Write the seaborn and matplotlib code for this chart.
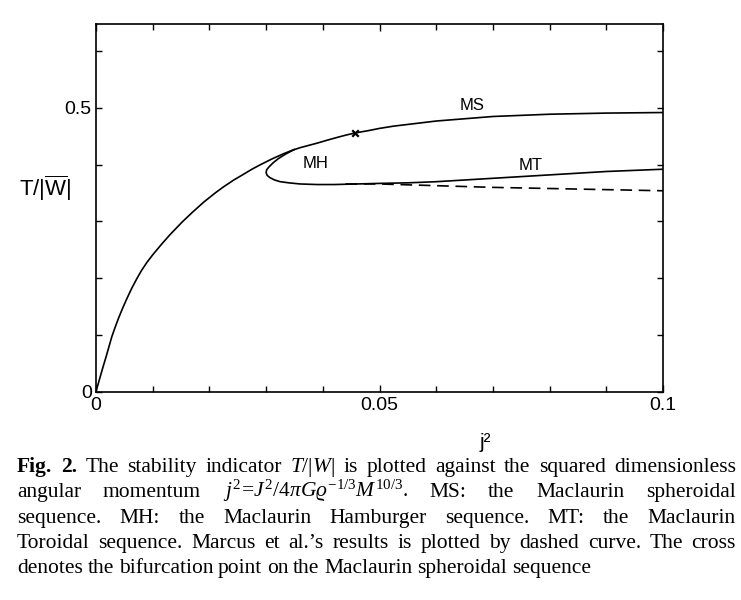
import matplotlib
matplotlib.use("Agg")
import matplotlib.pyplot as plt
import seaborn as sns
from matplotlib.ticker import MultipleLocator, FixedLocator

# ---------------- data ----------------
ms_j2 = [0.0, 0.0004, 0.0008, 0.0012, 0.0018, 0.0022, 0.0028, 0.0034, 0.0040, 0.0047,
         0.0055, 0.0063, 0.0072, 0.0080, 0.0090, 0.0100, 0.0115, 0.0130, 0.0152, 0.0170,
         0.0190, 0.0210, 0.0225, 0.0243, 0.0260, 0.0275, 0.0290, 0.0310, 0.0330, 0.0345,
         0.0360, 0.0375, 0.0390, 0.0407, 0.0425, 0.0440, 0.0457, 0.0480, 0.0500, 0.0525,
         0.0550, 0.0575, 0.0600, 0.0625, 0.0650, 0.0675, 0.0700, 0.0750, 0.0800, 0.0850,
         0.0900, 0.0950, 0.1000]
ms_tw = [0.0, 0.014, 0.028, 0.042, 0.062, 0.076, 0.097, 0.114, 0.130, 0.147,
         0.165, 0.182, 0.199, 0.213, 0.228, 0.241, 0.259, 0.276, 0.299, 0.316,
         0.334, 0.350, 0.361, 0.373, 0.383, 0.392, 0.400, 0.410, 0.419, 0.425,
         0.430, 0.434, 0.438, 0.443, 0.448, 0.452, 0.456, 0.460, 0.464, 0.468,
         0.471, 0.474, 0.477, 0.479, 0.481, 0.483, 0.485, 0.487, 0.489, 0.490,
         0.491, 0.4915, 0.492]

mhmt_j2 = [0.0350, 0.0335, 0.0322, 0.0312, 0.0305, 0.0301, 0.0300, 0.0302, 0.0307,
           0.0315, 0.0325, 0.0340, 0.0360, 0.0390, 0.0420, 0.0460, 0.0500, 0.0550,
           0.0600, 0.0650, 0.0700, 0.0750, 0.0800, 0.0850, 0.0900, 0.0950, 0.1000]
mhmt_tw = [0.427, 0.419, 0.411, 0.403, 0.396, 0.391, 0.386, 0.381, 0.377,
           0.373, 0.370, 0.368, 0.366, 0.365, 0.365, 0.366, 0.367, 0.368,
           0.370, 0.373, 0.376, 0.379, 0.382, 0.385, 0.388, 0.390, 0.392]

marcus_j2 = [0.044, 0.050, 0.060, 0.070, 0.080, 0.090, 0.100]
marcus_tw = [0.366, 0.366, 0.363, 0.360, 0.358, 0.356, 0.354]

bifurcation_j2 = [0.0457]
bifurcation_tw = [0.4564]

seq_names = ["MS", "MH", "MT"]
seq_j2 = [0.0664, 0.0388, 0.0767]
seq_tw = [0.505, 0.4025, 0.398]

x_major = [0.0, 0.05, 0.1]
x_major_labels = ["0", "0.05", "0.1"]
y_major = [0.0, 0.5]
y_major_labels = ["0", "0.5"]

caption_lines = [
    [("Fig.", "bold"), ("2.", "bold"), ("The", "normal"), ("stability", "normal"),
     ("indicator", "normal"), (r"$T/|W|$", "normal"), ("is", "normal"), ("plotted", "normal"),
     ("against", "normal"), ("the", "normal"), ("squared", "normal"), ("dimensionless", "normal")],
    [("angular", "normal"), ("momentum", "normal"),
     (r"$j^2\!=\!J^2/4\pi G\varrho^{-1/3}M^{10/3}$.", "normal"),
     ("MS:", "normal"), ("the", "normal"), ("Maclaurin", "normal"), ("spheroidal", "normal")],
    [("sequence.", "normal"), ("MH:", "normal"), ("the", "normal"), ("Maclaurin", "normal"),
     ("Hamburger", "normal"), ("sequence.", "normal"), ("MT:", "normal"), ("the", "normal"),
     ("Maclaurin", "normal")],
    [("Toroidal", "normal"), ("sequence.", "normal"), ("Marcus", "normal"), ("et", "normal"),
     ("al.\u2019s", "normal"), ("results", "normal"), ("is", "normal"), ("plotted", "normal"),
     ("by", "normal"), ("dashed", "normal"), ("curve.", "normal"), ("The", "normal"),
     ("cross", "normal")],
    [("denotes", "normal"), ("the", "normal"), ("bifurcation", "normal"), ("point", "normal"),
     ("on", "normal"), ("the", "normal"), ("Maclaurin", "normal"), ("spheroidal", "normal"),
     ("sequence", "normal")],
]

# ---------------- style ----------------
sns.set_theme(style="ticks")
plt.rcParams["font.family"] = ["Liberation Sans", "DejaVu Sans"]
plt.rcParams["mathtext.fontset"] = "custom"
plt.rcParams["mathtext.rm"] = "Liberation Serif"
plt.rcParams["mathtext.it"] = "Liberation Serif:italic"
plt.rcParams["mathtext.bf"] = "Liberation Serif:bold"
plt.rcParams["mathtext.sf"] = "Liberation Sans"

fig = plt.figure(figsize=(7.41, 6.0), dpi=100)
fig.patch.set_facecolor("white")
ax = fig.add_axes([96 / 741, 1 - 391.5 / 600, 567 / 741, 368 / 600])
ax.set_facecolor("white")

lw = 1.2
sns.lineplot(x=ms_j2, y=ms_tw, sort=False, estimator=None, color="black", lw=lw, ax=ax)
sns.lineplot(x=mhmt_j2, y=mhmt_tw, sort=False, estimator=None, color="black", lw=lw, ax=ax)
sns.lineplot(x=marcus_j2, y=marcus_tw, sort=False, estimator=None, color="black", lw=lw,
             linestyle=(0, (7, 4)), ax=ax)
sns.scatterplot(x=bifurcation_j2, y=bifurcation_tw, marker="x", s=22, color="black",
                linewidth=1.6, ax=ax, zorder=5)

for name, xx, yy in zip(seq_names, seq_j2, seq_tw):
    ax.text(xx, yy, name, fontsize=12, ha="center", va="center", color="black")

ax.set_xlim(0, 0.1)
ax.set_ylim(0, 0.649)
ax.xaxis.set_major_locator(FixedLocator(x_major))
ax.set_xticks(x_major)
ax.set_xticklabels(x_major_labels)
ax.xaxis.set_minor_locator(MultipleLocator(0.01))
ax.set_yticks(y_major)
ax.set_yticklabels(y_major_labels)
ax.yaxis.set_minor_locator(MultipleLocator(0.1))

ax.tick_params(axis="both", which="both", direction="in", top=True, right=True,
               color="black", width=1.0, labelsize=14, labelcolor="black")
ax.tick_params(axis="x", which="major", length=5, pad=4)
ax.tick_params(axis="x", which="minor", length=4)
ax.tick_params(axis="y", which="both", length=4.5, pad=3)
for sp in ax.spines.values():
    sp.set_visible(True)
    sp.set_color("black")
    sp.set_linewidth(1.2)

ax.set_xlabel("j\u00b2", fontsize=15, color="black")
ax.xaxis.set_label_coords((485 - 96) / 567, (391.5 - 433) / 368)
ax.set_ylabel(r"$\mathsf{T/|\overline{W}|}$", fontsize=16, rotation=0,
              ha="center", va="center", color="black")
ax.yaxis.set_label_coords((45 - 96) / 567, (391.5 - 188) / 368)

# ---------------- caption (justified, word by word) ----------------
renderer = fig.canvas.get_renderer()
W = fig.bbox.width
H = fig.bbox.height
x_left, x_right = 17.0, 736.0
baselines = [472, 497, 523, 548, 573]


def measure(words, size):
    ws = []
    for w, weight in words:
        t = fig.text(0, 0, w, fontsize=size, fontweight=weight, family="Liberation Serif")
        ws.append(t.get_window_extent(renderer).width)
        t.remove()
    return ws


# largest size for which every justified line keeps at least a thin word gap
min_gap_em = 0.18
sizes = []
for words in caption_lines[:-1]:
    ws = measure(words, 10)
    em10 = 10 * 100 / 72
    need10 = sum(ws) + min_gap_em * em10 * (len(ws) - 1)
    sizes.append(10 * (x_right - x_left) / need10)
cap_size = min(min(sizes), 15.5)

for i, (words, yb) in enumerate(zip(caption_lines, baselines)):
    ws = measure(words, cap_size)
    last = i == len(caption_lines) - 1
    if last:
        gap = 0.22 * cap_size * 100 / 72
    else:
        gap = (x_right - x_left - sum(ws)) / (len(ws) - 1)
    x = x_left
    for (w, weight), wd in zip(words, ws):
        fig.text(x / W, 1 - yb / H, w, fontsize=cap_size, fontweight=weight,
                 family="Liberation Serif", ha="left", va="baseline", color="black")
        x += wd + gap

fig.savefig("out.png", dpi=100, facecolor="white")
